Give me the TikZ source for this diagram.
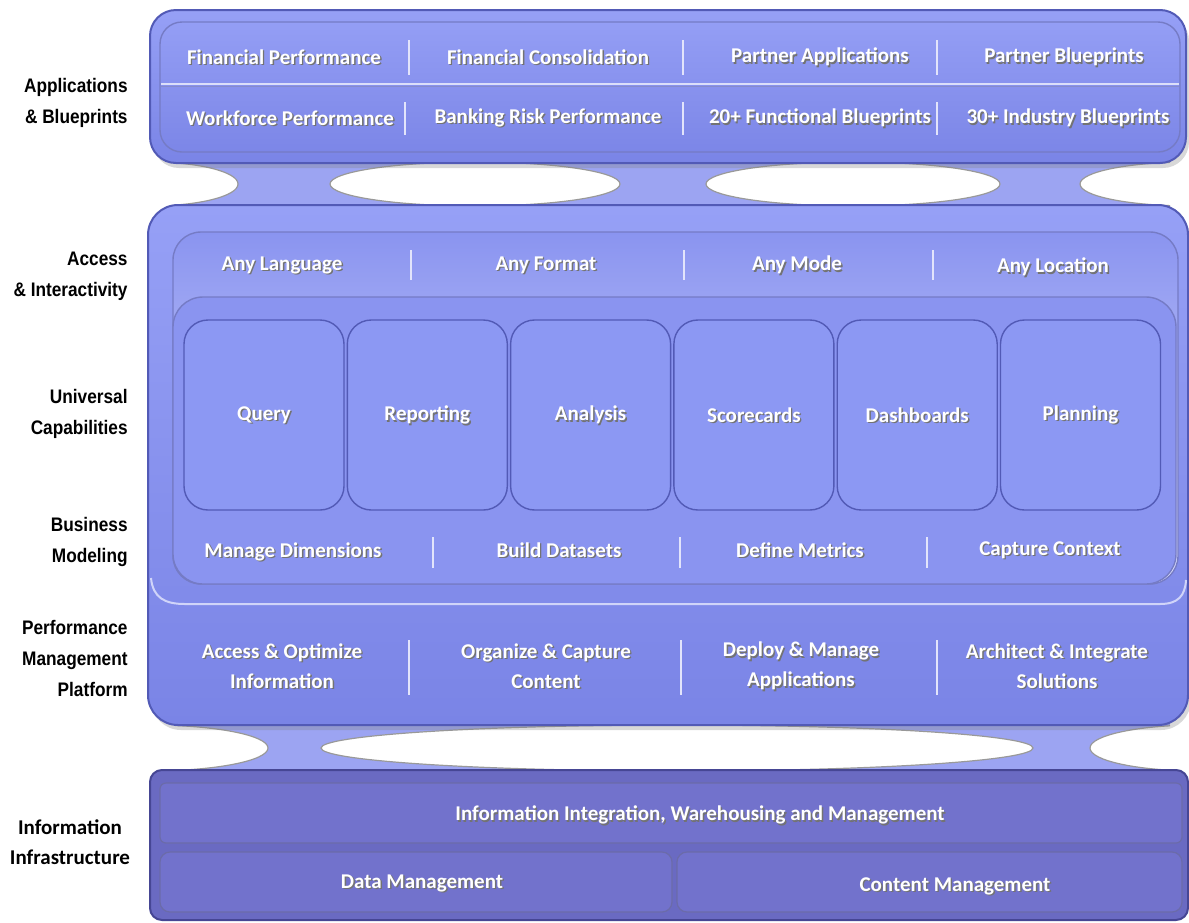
\documentclass[tikz,border=0pt]{standalone}
\usepackage{fontspec}
\newfontfamily\pfont{Carlito}
\newfontfamily\lfont[FakeStretch=0.88]{Liberation Sans}
\usetikzlibrary{shadows}

\definecolor{paneltop}{RGB}{150,160,246}
\definecolor{panelbot}{RGB}{122,132,230}
\definecolor{panelblue}{RGB}{138,148,240}
\definecolor{paneledge}{RGB}{82,90,182}
\definecolor{tileblue}{RGB}{140,152,243}
\definecolor{infra}{RGB}{106,106,194}
\definecolor{infrarow}{RGB}{114,114,204}
\definecolor{infraedge}{RGB}{70,70,148}

\tikzset{
	panel/.style={draw=paneledge, line width=1pt, top color=paneltop, bottom color=panelbot,
		drop shadow={opacity=.3, shadow xshift=1.5pt, shadow yshift=-2.5pt}},
	inner/.style={draw=paneledge!80, line width=.7pt},
	tile/.style={draw=paneledge, line width=.7pt, rounded corners=12pt, fill=tileblue,
		minimum width=80pt, minimum height=95pt},
	divider/.style={draw=white!75!panelblue, line width=.8pt},
	band/.style={fill=panelblue!85!white},
	hole/.style={fill=white, draw=black!40, line width=.6pt},
	ptxt/.style={font=\pfont\bfseries\fontsize{10.5}{15}\selectfont, text=white, align=center},
	shd/.style={ptxt, text=black!55},
	lbl/.style={font=\lfont\bfseries\fontsize{9.8}{15.5}\selectfont, align=right, anchor=east, inner sep=0pt},
}

% text with a soft shadow under it
\def\ptext(#1)(#2)#3{\node[shd, xshift=.7pt, yshift=-.7pt] at (#2) {#3}; \node[ptxt] (#1) at (#2) {#3};}

\begin{document}
\begin{tikzpicture}[x=0.5pt, y=-0.5pt]
			%%%%% START %%%%%
			\useasboundingbox (0,0) rectangle (1189,922);
			\fill[white] (0,0) rectangle (1189,922);
			
			%% bridges with holes
			\begin{scope}
				\clip (175,161) rectangle (1170,207);
				\fill[band] (175,161) rectangle (1170,207);
				\draw[hole] (150,184) ellipse [x radius=44pt, y radius=11pt];
				\draw[hole] (475,184) ellipse [x radius=72.5pt, y radius=11pt];
				\draw[hole] (853,184) ellipse [x radius=73.5pt, y radius=11pt];
				\draw[hole] (1190,184) ellipse [x radius=55pt, y radius=11pt];
			\end{scope}
			\begin{scope}
				\clip (175,722) rectangle (1170,772);
				\fill[band] (175,722) rectangle (1170,772);
				\draw[hole] (150,748) ellipse [x radius=59pt, y radius=11.5pt];
				\draw[hole] (677,748) ellipse [x radius=178pt, y radius=11.5pt];
				\draw[hole] (1198,748) ellipse [x radius=54pt, y radius=11.5pt];
			\end{scope}
			
			%% applications & blueprints
			\draw[panel, rounded corners=13pt] (150,10) rectangle (1186,163);
			\draw[inner, rounded corners=11pt] (160,22) rectangle (1180,152);
			\draw[draw=white!70!panelblue, line width=.8pt] (161,84) -- (1179,84);
			\draw[draw=paneledge!70, line width=.5pt] (161,86) -- (1179,86);
			
			\draw[divider] (409,40) -- (409,75);
			\draw[divider] (683,40) -- (683,75);
			\draw[divider] (937,40) -- (937,75);
			\draw[divider] (405,102) -- (405,135);
			\draw[divider] (683,102) -- (683,135);
			\draw[divider] (937,102) -- (937,135);
			
			\ptext(finperf)(284,57){Financial Performance}
			\ptext(fincons)(548,57){Financial Consolidation}
			\ptext(partapp)(820,57){Partner Applications}
			\ptext(partblue)(1064,57){Partner Blueprints}
			\ptext(workperf)(290,118){Workforce Performance}
			\ptext(bankrisk)(548,118){Banking Risk Performance}
			\ptext(funcblue)(820,118){20+ Functional Blueprints}
			\ptext(indblue)(1068,118){30+ Industry Blueprints}
			
			%% main panel
			\draw[panel, rounded corners=15pt] (148,205) rectangle (1188,725);
			\draw[inner, rounded corners=14pt, top color=panelblue, bottom color=white!70!panelblue] (173,232) rectangle (1178,584);
			\draw[inner, rounded corners=15pt, fill=panelblue] (173,297) rectangle (1176,584);
			\draw[draw=white!60!panelblue, line width=1pt] (151,578) .. controls (153,598) and (165,604) .. (185,604) -- (1160,604) .. controls (1178,604) and (1185,596) .. (1186,580);
			
			%% access row
			\draw[divider] (411,250) -- (411,280);
			\draw[divider] (684,250) -- (684,280);
			\draw[divider] (933,250) -- (933,280);
			\ptext(anylang)(282,265){Any Language}
			\ptext(anyform)(546,265){Any Format}
			\ptext(anymode)(797,265){Any Mode}
			\ptext(anyloc)(1053,267){Any Location}
			
			%% capabilities
			\foreach \name/\txt [count=\i from 0] in {query/Query, reporting/Reporting, analysis/Analysis, scorecards/Scorecards, dashboards/Dashboards, planning/Planning}{
				\node[tile] (\name) at ({264+163.3*\i},415) {};
				\ptext(\name-t)(\name.center){\txt}
			}
			
			%% business modeling
			\draw[divider] (433,537) -- (433,568);
			\draw[divider] (680,537) -- (680,568);
			\draw[divider] (927,537) -- (927,568);
			\ptext(mandim)(293,552){Manage Dimensions}
			\ptext(builddata)(559,550){Build Datasets}
			\ptext(defmet)(800,550){Define Metrics}
			\ptext(capcont)(1050,550){Capture Context}
			
			%% platform
			\draw[divider] (409,640) -- (409,695);
			\draw[divider] (681,640) -- (681,695);
			\draw[divider] (937,640) -- (937,695);
			\ptext(accopt)(282,666){Access \& Optimize\\Information}
			\ptext(orgcap)(546,666){Organize \& Capture\\Content}
			\ptext(depman)(801,666){Deploy \& Manage\\Applications}
			\ptext(archint)(1057,666){Architect \& Integrate\\Solutions}
			
			%% information infrastructure
			\draw[draw=infraedge, line width=1pt, fill=infra, rounded corners=6pt] (150,770) rectangle (1188,920);
			\draw[draw=infraedge!80, line width=.6pt, fill=infrarow, rounded corners=3pt] (160,783) rectangle (1182,843);
			\draw[draw=infraedge!80, line width=.6pt, fill=infrarow, rounded corners=5pt] (160,852) rectangle (672,912);
			\draw[draw=infraedge!80, line width=.6pt, fill=infrarow, rounded corners=5pt] (677,852) rectangle (1182,912);
			\ptext(iiwm)(700,815){Information Integration, Warehousing and Management}
			\ptext(datam)(422,883){Data Management}
			\ptext(contm)(955,886){Content Management}
			
			%% layer names
			\node[lbl] (appbl) at (128,103) {Applications\\\& Blueprints};
			\node[lbl] (accint) at (128,276) {Access\\\& Interactivity};
			\node[lbl] (univcap) at (128,414) {Universal\\Capabilities};
			\node[lbl] (busmod) at (128,542) {Business\\Modeling};
			\node[lbl] (pmplat) at (128,658) {Performance\\Management\\Platform};
			\node[font=\pfont\bfseries\fontsize{10.5}{15}\selectfont, align=center] (infinf) at (70,842) {Information\\Infrastructure};
			
			%%%%% END %%%%%
\end{tikzpicture}
\end{document}
